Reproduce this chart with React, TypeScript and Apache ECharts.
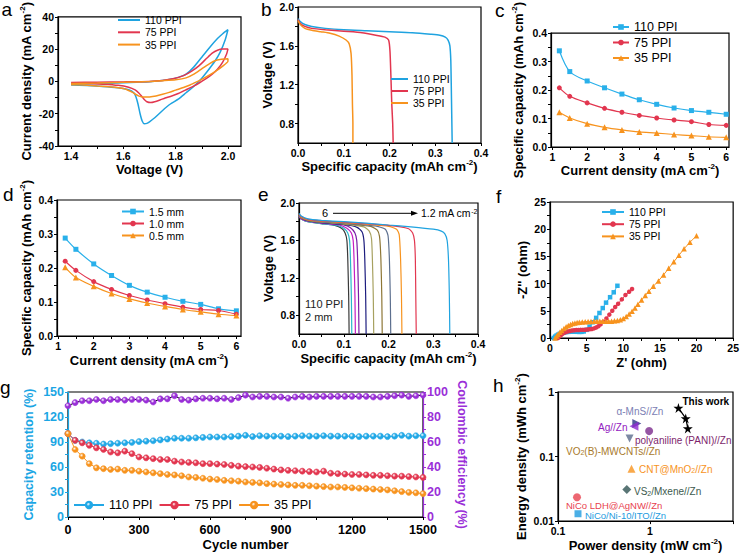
import React, { useEffect, useRef } from "react";
import * as echarts from "echarts";

const FONT = "'Liberation Sans', Arial, Helvetica, sans-serif";

const BLUE = "#1FA3E0";
const RED = "#E2364F";
const ORANGE = "#F7931E";
const PURPLE = "#9A2FD8";
const CYAN_AXIS = "#1BA6E4";

// ---------------- panel a : CV loops [V, mA cm-2]
const cv110 = [[1.40,-1.8],[1.45,-1.5],[1.50,-1.3],[1.55,-1.1],[1.60,-0.8],[1.65,-0.5],[1.70,-0.2],[1.74,0.4],[1.78,1.3],[1.81,2.5],[1.84,4.5],[1.87,9],[1.90,15],[1.93,21],[1.96,26.5],[1.98,29.5],[2.00,32],[1.99,26],[1.97,18],[1.95,12.5],[1.92,6],[1.90,2],[1.87,-3],[1.84,-7],[1.81,-11],[1.78,-14],[1.75,-18],[1.72,-22.5],[1.70,-25],[1.69,-26],[1.68,-26.2],[1.672,-24.5],[1.664,-20],[1.656,-14],[1.648,-9.5],[1.64,-7],[1.62,-5.2],[1.58,-4],[1.52,-3.1],[1.46,-2.6],[1.40,-2.3]];
const cv75 = [[1.40,-0.7],[1.50,-0.5],[1.60,-0.3],[1.70,0],[1.75,0.6],[1.79,1.6],[1.83,3.6],[1.86,6.2],[1.89,9.8],[1.92,14.5],[1.94,17.5],[1.96,19.3],[1.98,20],[2.00,20],[1.995,17],[1.98,12],[1.96,7.5],[1.94,4.5],[1.915,1.5],[1.89,-1],[1.865,-3.2],[1.84,-5.2],[1.81,-7.5],[1.78,-9.3],[1.76,-10.3],[1.74,-11.5],[1.72,-12.6],[1.705,-13.1],[1.69,-12.6],[1.68,-11.2],[1.67,-9.2],[1.66,-7.3],[1.645,-5.3],[1.62,-3.6],[1.58,-2.4],[1.52,-1.7],[1.46,-1.3],[1.40,-1.1]];
const cv35 = [[1.40,-1.3],[1.50,-1.0],[1.60,-0.6],[1.70,-0.1],[1.75,0.4],[1.80,1.0],[1.84,2.2],[1.87,4.5],[1.90,7.8],[1.93,11],[1.95,12.8],[1.97,13.6],[2.00,14],[2.00,12.5],[1.98,9.5],[1.955,6.5],[1.93,4],[1.905,1.7],[1.88,-0.3],[1.855,-2.2],[1.83,-3.8],[1.80,-5.4],[1.775,-6.8],[1.75,-8],[1.725,-9],[1.70,-9.6],[1.675,-9.7],[1.66,-9.1],[1.648,-8.1],[1.635,-6.8],[1.62,-5.6],[1.60,-4.4],[1.56,-3.4],[1.50,-2.8],[1.45,-2.3],[1.40,-2.0]];

// ---------------- panel b : discharge [mAh cm-2, V]
const gcd110 = [[0,1.88],[0.005,1.85],[0.015,1.82],[0.03,1.80],[0.06,1.78],[0.1,1.765],[0.15,1.755],[0.2,1.745],[0.25,1.735],[0.29,1.72],[0.31,1.71],[0.322,1.69],[0.328,1.66],[0.332,1.6],[0.334,1.45],[0.335,1.2],[0.336,0.9],[0.337,0.6]];
const gcd75 = [[0,1.87],[0.005,1.83],[0.015,1.80],[0.03,1.78],[0.06,1.765],[0.1,1.75],[0.14,1.735],[0.17,1.71],[0.19,1.69],[0.198,1.66],[0.201,1.55],[0.203,1.3],[0.205,1.0],[0.207,0.8],[0.208,0.6]];
const gcd35 = [[0,1.86],[0.005,1.82],[0.015,1.78],[0.03,1.76],[0.05,1.745],[0.07,1.73],[0.09,1.70],[0.105,1.66],[0.112,1.62],[0.116,1.52],[0.118,1.3],[0.119,1.0],[0.12,0.8],[0.12,0.6]];

// ---------------- panels c, d : rate capability
const rateCurrent = [1.2, 1.5, 2, 2.5, 3, 3.5, 4, 4.5, 5, 5.5, 6];
const capPPI110 = [0.338, 0.265, 0.232, 0.208, 0.186, 0.166, 0.150, 0.137, 0.128, 0.122, 0.115];
const capPPI75 = [0.208, 0.178, 0.155, 0.136, 0.122, 0.111, 0.102, 0.095, 0.089, 0.079, 0.076];
const capPPI35 = [0.122, 0.102, 0.082, 0.069, 0.060, 0.053, 0.049, 0.044, 0.040, 0.036, 0.034];
const capThick15 = [0.288, 0.255, 0.212, 0.178, 0.149, 0.129, 0.114, 0.102, 0.093, 0.080, 0.074];
const capThick10 = [0.220, 0.193, 0.160, 0.137, 0.119, 0.106, 0.095, 0.085, 0.078, 0.075, 0.064];
const capThick05 = [0.202, 0.172, 0.146, 0.125, 0.109, 0.097, 0.087, 0.078, 0.071, 0.064, 0.060];

// ---------------- panel e : discharge at 6 ... 1.2 mA cm-2
const rate6 = [[0,1.86],[0.005,1.83],[0.02,1.80],[0.05,1.78],[0.08,1.76],[0.095,1.73],[0.103,1.68],[0.107,1.6],[0.109,1.4],[0.111,1.0],[0.112,0.6]];
const rate55 = [[0,1.86],[0.005,1.83],[0.02,1.80],[0.05,1.78],[0.085,1.76],[0.1,1.73],[0.109,1.68],[0.113,1.6],[0.115,1.4],[0.117,1.0],[0.118,0.6]];
const rate5 = [[0,1.86],[0.005,1.83],[0.02,1.805],[0.05,1.785],[0.09,1.765],[0.107,1.73],[0.117,1.68],[0.121,1.6],[0.123,1.4],[0.125,1.0],[0.126,0.6]];
const rate45 = [[0,1.87],[0.005,1.84],[0.02,1.81],[0.05,1.79],[0.1,1.765],[0.115,1.735],[0.125,1.68],[0.129,1.6],[0.131,1.4],[0.133,1.0],[0.134,0.6]];
const rate4 = [[0,1.87],[0.005,1.84],[0.02,1.81],[0.05,1.79],[0.1,1.77],[0.13,1.74],[0.141,1.69],[0.145,1.6],[0.147,1.4],[0.149,1.0],[0.15,0.6]];
const rate35 = [[0,1.87],[0.005,1.84],[0.02,1.815],[0.05,1.795],[0.1,1.775],[0.145,1.745],[0.157,1.70],[0.162,1.62],[0.164,1.4],[0.166,1.0],[0.167,0.6]];
const rate3 = [[0,1.87],[0.005,1.845],[0.02,1.815],[0.05,1.8],[0.1,1.78],[0.16,1.75],[0.175,1.71],[0.18,1.64],[0.183,1.4],[0.185,1.0],[0.186,0.6]];
const rate25 = [[0,1.88],[0.005,1.85],[0.02,1.82],[0.05,1.8],[0.1,1.785],[0.17,1.755],[0.193,1.72],[0.199,1.65],[0.202,1.4],[0.204,1.0],[0.205,0.6]];
const rate2 = [[0,1.88],[0.005,1.85],[0.02,1.82],[0.05,1.805],[0.1,1.79],[0.2,1.75],[0.218,1.72],[0.224,1.66],[0.227,1.4],[0.229,1.0],[0.23,0.6]];
const rate15 = [[0,1.88],[0.005,1.855],[0.02,1.825],[0.05,1.81],[0.1,1.795],[0.2,1.76],[0.245,1.725],[0.254,1.68],[0.258,1.6],[0.26,1.4],[0.261,1.0],[0.262,0.6]];
const rate12 = [[0,1.89],[0.005,1.86],[0.02,1.83],[0.05,1.815],[0.1,1.80],[0.15,1.785],[0.2,1.765],[0.25,1.745],[0.3,1.72],[0.318,1.70],[0.326,1.67],[0.331,1.6],[0.334,1.4],[0.336,1.0],[0.337,0.6]];
const rateCurves = [rate6, rate55, rate5, rate45, rate4, rate35, rate3, rate25, rate2, rate15, rate12];
const rateNames = ["6", "5.5", "5", "4.5", "4", "3.5", "3", "2.5", "2", "1.5", "1.2"];
const rateColors = ["#3A3A3A", "#2AB7C9", "#C51FC4", "#7A1EA6", "#1C1C7E", "#A7A160", "#8D7635", "#5C6F8E", ORANGE, RED, BLUE];

// ---------------- panel f : Nyquist [Z', -Z'']
const eis110 = [[0.5,0],[0.7,0.25],[0.9,0.45],[1.1,0.62],[1.35,0.78],[1.6,0.9],[1.9,1.0],[2.2,1.08],[2.5,1.13],[2.8,1.16],[3.1,1.17],[3.4,1.16],[3.7,1.14],[4.0,1.12],[4.3,1.13],[4.6,1.2],[5.0,1.5],[5.4,2.1],[5.85,2.9],[6.3,3.7],[6.75,4.6],[7.2,5.5],[7.65,6.5],[8.2,7.5],[8.7,8.4],[9.2,9.6]];
const eis75 = [[1.1,0],[1.3,0.3],[1.55,0.6],[1.8,0.85],[2.1,1.05],[2.4,1.2],[2.7,1.3],[3.0,1.38],[3.3,1.43],[3.6,1.46],[3.9,1.48],[4.2,1.5],[4.5,1.5],[4.8,1.52],[5.1,1.55],[5.4,1.6],[5.7,1.66],[6.0,1.76],[6.3,1.92],[6.6,2.15],[6.9,2.5],[7.3,3.0],[7.7,3.6],[8.1,4.3],[8.5,5.0],[8.9,5.7],[9.3,6.3],[9.8,7.1],[10.3,7.9],[10.8,8.5],[11.2,9.0]];
const eis35 = [[0.7,0],[0.9,0.35],[1.1,0.7],[1.35,1.05],[1.6,1.4],[1.9,1.75],[2.2,2.05],[2.5,2.3],[2.8,2.5],[3.1,2.65],[3.4,2.75],[3.7,2.85],[4.0,2.9],[4.4,2.95],[4.8,3.0],[5.2,3.05],[5.6,3.05],[6.0,3.1],[6.4,3.1],[6.8,3.1],[7.2,3.1],[7.6,3.1],[8.0,3.1],[8.4,3.1],[8.8,3.15],[9.2,3.2],[9.6,3.35],[10.0,3.6],[10.4,3.95],[10.8,4.4],[11.2,4.9],[11.6,5.5],[12.0,6.2],[12.5,7.0],[13.0,7.8],[13.5,8.6],[14.1,9.5],[14.8,10.5],[15.5,11.6],[16.2,12.8],[16.9,14.0],[17.6,15.2],[18.3,16.4],[19.1,17.6],[20.0,18.8]];

// ---------------- panel g : cycling
const cycles = [0,30,60,90,120,150,180,210,240,270,300,330,360,390,420,450,480,510,540,570,600,630,660,690,720,750,780,810,840,870,900,930,960,990,1020,1050,1080,1110,1140,1170,1200,1230,1260,1290,1320,1350,1380,1410,1440,1470,1500];
const ret110 = [100,92,90,89,88.5,87.5,88,88.5,89,89.5,90.5,91,91.5,92.5,93.5,94.5,94.5,94.5,95,95.5,96,96,96,96.5,97,98,96.5,97.5,97,97,97,96.5,97,97.5,97,97,97.5,97,97,97,97,96.5,97,97,97,96.5,97,98,97,97.5,97.5];
const ret75 = [100,92,89,86,83,81,78,77,79,76,72,71,70,69,69,67,66,65.5,65,64,64,63.5,63,62,61,60.5,60,59.5,58.5,57.5,56.5,56,55.5,55,54.5,54,55,52.5,52,51.5,51,51,50.5,50,50,49.5,49,49,48.5,48,47.5];
const ret35 = [100,81,73,64,59,58,57,57.5,56,56,55,54,53,52,51,50.5,49.5,48,47.5,46.5,45.5,45,44,43.5,43,42,41.5,41,40,39.5,39,38.5,38,38,37.5,37,36.5,36,36,35.5,35,34.5,34,33.5,33,32.5,31.5,30.5,29.5,29,28];
const ce110 = [89,91.5,93,93,94,93,94,94,93.5,94,94,93.5,92,94.5,94.5,97,94,93.5,94.5,95,95,94.5,95,94,95.5,97.5,96,96.5,96.5,96,96,95,96,96.5,96,96.5,96.5,96.5,96.5,96.5,96.5,96.5,96.5,96,96,96.5,97,97.5,96.5,97,97.5];

// ---------------- panel h : Ragone
const ragoneNames = ["α-MnS//Zn", "Ag//Zn", "polyaniline (PANI)//Zn", "VO2(B)-MWCNTs//Zn", "CNT@MnO2//Zn", "VS2/Mxene//Zn", "NiCo LDH@AgNW//Zn", "NiCo/Ni-10/ITO//Zn"];
const ragonePower = [0.72, 0.67, 0.98, 0.6, 0.63, 0.56, 0.161, 0.165];
const ragoneEnergy = [0.325, 0.295, 0.248, 0.19, 0.065, 0.031, 0.0234, 0.013];
const thisWorkPower = [2.04, 2.45, 2.58];
const thisWorkEnergy = [0.567, 0.39, 0.273];

// ---------------- tick values
const aXMajor = [1.4, 1.6, 1.8, 2.0];
const aXMinor = [1.4, 1.5, 1.6, 1.7, 1.8, 1.9, 2.0];
const aYMajor = [-40, -20, 0, 20, 40];
const aYMinor = [-40, -30, -20, -10, 0, 10, 20, 30, 40];
const capMajor = [0, 0.1, 0.2, 0.3, 0.4];
const capMinor = [0, 0.05, 0.1, 0.15, 0.2, 0.25, 0.3, 0.35, 0.4];
const voltMajor = [0.8, 1.2, 1.6, 2.0];
const voltMinor = [0.8, 1.0, 1.2, 1.4, 1.6, 1.8, 2.0];
const curMajor = [1, 2, 3, 4, 5, 6];
const curMinor = [1, 1.5, 2, 2.5, 3, 3.5, 4, 4.5, 5, 5.5, 6];
const zMajor = [0, 5, 10, 15, 20, 25];
const zMinor = [0, 2.5, 5, 7.5, 10, 12.5, 15, 17.5, 20, 22.5, 25];
const cycMajor = [0, 300, 600, 900, 1200, 1500];
const cycMinor = [0, 150, 300, 450, 600, 750, 900, 1050, 1200, 1350, 1500];
const retMajor = [0, 30, 60, 90, 120, 150];
const retMinor = [0, 15, 30, 45, 60, 75, 90, 105, 120, 135, 150];
const ceMajor = [0, 20, 40, 60, 80, 100];
const ceMinor = [0, 10, 20, 30, 40, 50, 60, 70, 80, 90, 100];

const zip = (xs: number[], ys: number[]) => xs.map((x, i) => [x, ys[i]]);
const f1 = (v: number) => v.toFixed(1);
const fi = (v: number) => String(Math.round(v));

function axis(o: any) {
  const color = o.color || "#000";
  return {
    type: "value",
    gridIndex: o.grid,
    min: o.min,
    max: o.max,
    position: o.position,
    name: o.name,
    nameLocation: "middle",
    nameGap: o.gap,
    nameRotate: o.nameRotate,
    nameTextStyle: {
      fontFamily: FONT, fontSize: o.nameSize || 13, fontWeight: "bold", color, lineHeight: 16,
      rich: { sup: { fontFamily: FONT, fontSize: 8, fontWeight: "bold", color, verticalAlign: "top", lineHeight: 9 } },
    },
    axisLine: { show: true, onZero: false, lineStyle: { color, width: 1.2 } },
    axisTick: { show: true, inside: false, length: 3, customValues: o.minor, lineStyle: { color, width: 1 } },
    axisLabel: { show: true, customValues: o.major, formatter: o.fmt, fontFamily: FONT, fontSize: o.labelSize || 10.5, fontWeight: "bold", color, margin: o.margin ?? 4 },
    splitLine: { show: false },
  };
}

function logAxis(o: any) {
  return {
    type: "log", logBase: 10, gridIndex: o.grid, min: o.min, max: o.max,
    name: o.name, nameLocation: "middle", nameGap: o.gap,
    nameTextStyle: {
      fontFamily: FONT, fontSize: 13, fontWeight: "bold", color: "#000", lineHeight: 16,
      rich: { sup: { fontFamily: FONT, fontSize: 8, fontWeight: "bold", color: "#000", verticalAlign: "top", lineHeight: 9 } },
    },
    axisLine: { show: true, onZero: false, lineStyle: { color: "#000", width: 1.2 } },
    axisTick: { show: true, length: 3, lineStyle: { color: "#000" } },
    axisLabel: {
      fontFamily: FONT, fontSize: 10.5, fontWeight: "bold", color: "#000", margin: 4,
      formatter: (v: number) => {
        const e = Math.round(Math.log10(v));
        if (Math.abs(Math.log10(v) - e) > 1e-3) return "";
        return e >= 0 ? String(Math.pow(10, e)) : Math.pow(10, e).toFixed(-e);
      },
    },
    splitLine: { show: false },
  };
}

function ball(c: string) {
  return {
    type: "radial", x: 0.38, y: 0.35, r: 0.7,
    colorStops: [{ offset: 0, color: "#ffffff" }, { offset: 0.45, color: c }, { offset: 1, color: c }],
  };
}

function legend(o: any) {
  return {
    left: o.left, top: o.top, orient: o.orient || "vertical", padding: 0,
    itemWidth: o.iw, itemHeight: o.ih, itemGap: o.gap, icon: o.icon,
    data: o.data,
    formatter: (n: string) => n.slice(2),
    textStyle: { fontFamily: FONT, fontSize: o.fs || 10.5, color: "#000", lineHeight: o.lh || 12 },
    selectedMode: false,
  };
}

function txt(x: number, y: number, text: string, size: number, extra: any = {}) {
  return {
    type: "text", x, y, silent: true,
    style: { text, fill: extra.fill || "#000", fontFamily: FONT, fontSize: size, fontWeight: extra.weight || "normal", textVerticalAlign: "middle", textAlign: extra.align || "left", rich: extra.rich },
  };
}

function buildOption() {
  const gridBox = { show: true, borderColor: "#000", borderWidth: 1.2, backgroundColor: "transparent" };
  const grid = [
    { left: 58, top: 10, width: 183, height: 136 },
    { left: 298, top: 7, width: 183, height: 136 },
    { left: 551, top: 14, width: 178, height: 133 },
    { left: 57, top: 200, width: 184, height: 136 },
    { left: 299, top: 203, width: 179, height: 131 },
    { left: 550, top: 202, width: 185, height: 136 },
    { left: 68, top: 392, width: 355, height: 125 },
    { left: 558, top: 392, width: 175, height: 130 },
  ].map((g) => ({ ...g, ...gridBox }));

  const cdUnit = "Current density (mA cm{sup|-2})";
  const capUnit = "Specific capacity (mAh cm{sup|-2})";

  const xAxis = [
    axis({ grid: 0, min: 1.35, max: 2.05, major: aXMajor, minor: aXMinor, fmt: f1, name: "Voltage (V)", gap: 14 }),
    axis({ grid: 1, min: 0, max: 0.4, major: capMajor, minor: capMinor, fmt: f1, name: capUnit, gap: 15 }),
    axis({ grid: 2, min: 0.96, max: 6.08, major: curMajor, minor: curMinor, fmt: fi, name: cdUnit, gap: 15 }),
    axis({ grid: 3, min: 0.97, max: 6.13, major: curMajor, minor: curMinor, fmt: fi, name: cdUnit, gap: 16 }),
    axis({ grid: 4, min: 0, max: 0.4, major: capMajor, minor: capMinor, fmt: f1, name: capUnit, gap: 16.5 }),
    axis({ grid: 5, min: 0, max: 25, major: zMajor, minor: zMinor, fmt: fi, name: "Z' (ohm)", gap: 16 }),
    axis({ grid: 6, min: 0, max: 1500, major: cycMajor, minor: cycMinor, fmt: fi, name: "Cycle number", gap: 19, labelSize: 12.5, margin: 6 }),
    logAxis({ grid: 7, min: 0.1, max: 8, name: "Power density (mW cm{sup|-2})", gap: 14.5 }),
  ];
  const yAxis = [
    axis({ grid: 0, min: -40, max: 40, major: aYMajor, minor: aYMinor, fmt: fi, name: cdUnit, gap: 21 }),
    axis({ grid: 1, min: 0.6, max: 2.0, major: voltMajor, minor: voltMinor, fmt: f1, name: "Voltage (V)", gap: 21 }),
    axis({ grid: 2, min: 0, max: 0.4, major: capMajor, minor: capMinor, fmt: f1, name: capUnit, gap: 24.5 }),
    axis({ grid: 3, min: 0, max: 0.4, major: capMajor, minor: capMinor, fmt: f1, name: capUnit, gap: 20.5 }),
    axis({ grid: 4, min: 0.6, max: 2.0, major: voltMajor, minor: voltMinor, fmt: f1, name: "Voltage (V)", gap: 19.5 }),
    axis({ grid: 5, min: 0, max: 25, major: zMajor, minor: zMinor, fmt: fi, name: "-Z'' (ohm)", gap: 17 }),
    axis({ grid: 6, min: 0, max: 150, major: retMajor, minor: retMinor, fmt: fi, name: "Capacity retention (%)", gap: 31, color: CYAN_AXIS, labelSize: 12.5, nameSize: 12.5 }),
    logAxis({ grid: 7, min: 0.01, max: 1, name: "Energy density (mWh cm{sup|-2})", gap: 21 }),
    axis({ grid: 6, min: 0, max: 100, major: ceMajor, minor: ceMinor, fmt: fi, name: "Coulombic efficiency (%)", gap: 31, color: PURPLE, position: "right", nameRotate: -90, labelSize: 12.5, nameSize: 12.5 }),
  ];

  const series: any[] = [];
  const plain = (name: string, xi: number, data: any, color: string, w = 1.5) =>
    series.push({ type: "line", name, xAxisIndex: xi, yAxisIndex: xi, data, symbol: "none", smooth: 0.2, lineStyle: { color, width: w }, itemStyle: { color } });
  plain("a:110 PPI", 0, cv110, BLUE);
  plain("a:75 PPI", 0, cv75, RED);
  plain("a:35 PPI", 0, cv35, ORANGE);
  plain("b:110 PPI", 1, gcd110, BLUE);
  plain("b:75 PPI", 1, gcd75, RED);
  plain("b:35 PPI", 1, gcd35, ORANGE);

  const marked = (name: string, xi: number, data: any, color: string, symbol: string, size: number) =>
    series.push({ type: "line", name, xAxisIndex: xi, yAxisIndex: xi, data, symbol, symbolSize: size, smooth: 0.3, lineStyle: { color, width: 1.2 }, itemStyle: { color } });
  marked("c:110 PPI", 2, zip(rateCurrent, capPPI110), "#29B0EA", "rect", 5);
  marked("c:75 PPI", 2, zip(rateCurrent, capPPI75), RED, "circle", 5);
  marked("c:35 PPI", 2, zip(rateCurrent, capPPI35), ORANGE, "triangle", 6);
  marked("d:1.5 mm", 3, zip(rateCurrent, capThick15), "#29B0EA", "rect", 5);
  marked("d:1.0 mm", 3, zip(rateCurrent, capThick10), RED, "circle", 5);
  marked("d:0.5 mm", 3, zip(rateCurrent, capThick05), ORANGE, "triangle", 6);

  rateCurves.forEach((d, i) => plain("e:" + rateNames[i], 4, d, rateColors[i], 1.2));

  const eis = (name: string, data: any, color: string, symbol: string, size: number) =>
    series.push({ type: "line", name, xAxisIndex: 5, yAxisIndex: 5, data, symbol, symbolSize: size, lineStyle: { color, width: 1 }, itemStyle: { color } });
  eis("f:110 PPI", eis110, "#29B0EA", "rect", 4.5);
  eis("f:75 PPI", eis75, RED, "circle", 4.5);
  eis("f:35 PPI", eis35, ORANGE, "triangle", 5.5);

  const cyc = (name: string, vals: number[], color: string, lineColor: string, yi: number) =>
    series.push({ type: "line", name, xAxisIndex: 6, yAxisIndex: yi, data: zip(cycles, vals), symbol: "circle", symbolSize: 6, lineStyle: { color: lineColor, width: 1 }, itemStyle: { color: ball(color), borderColor: color, borderWidth: 0.6 } });
  cyc("g:110 PPI", ret110, "#22A8E6", "#22A8E6", 6);
  cyc("g:75 PPI", ret75, RED, RED, 6);
  cyc("g:35 PPI", ret35, ORANGE, ORANGE, 6);
  cyc("g:CE", ce110, PURPLE, "#000", 8);

  const hStyles = [
    { symbol: "triangle", rot: -90, size: 9, color: "#2B2F86" },
    { symbol: "triangle", rot: 90, size: 9, color: "#8E2AD0" },
    { symbol: "circle", rot: 0, size: 8, color: "#7A2A8C" },
    { symbol: "triangle", rot: 180, size: 8, color: "#5B6B8C" },
    { symbol: "triangle", rot: 0, size: 8, color: ORANGE },
    { symbol: "diamond", rot: 0, size: 9, color: "#2F5352" },
    { symbol: "circle", rot: 0, size: 8, color: "#E8414F" },
    { symbol: "rect", rot: 0, size: 7, color: "#1E9BE0" },
  ];
  series.push({
    type: "scatter", name: "h:refs", xAxisIndex: 7, yAxisIndex: 7,
    data: ragonePower.map((p, i) => ({
      name: ragoneNames[i], value: [p, ragoneEnergy[i]],
      symbol: hStyles[i].symbol, symbolRotate: hStyles[i].rot, symbolSize: hStyles[i].size,
      itemStyle: { color: hStyles[i].color },
    })),
  });
  series.push({
    type: "line", name: "h:This work", xAxisIndex: 7, yAxisIndex: 7,
    data: zip(thisWorkPower, thisWorkEnergy),
    symbol: "path://M50,0 L61,35 L98,35 L68,57 L79,91 L50,70 L21,91 L32,57 L2,35 L39,35 Z",
    symbolSize: 10, lineStyle: { color: "#000", width: 1.2 }, itemStyle: { color: "#000" },
  });

  const legends = [
    legend({ left: 118, top: 14, iw: 22, ih: 2, gap: 0.3, icon: "rect", data: ["a:110 PPI", "a:75 PPI", "a:35 PPI"] }),
    legend({ left: 391, top: 73, iw: 17, ih: 2, gap: 0, icon: "rect", data: ["b:110 PPI", "b:75 PPI", "b:35 PPI"] }),
    legend({ left: 612, top: 20, iw: 16, ih: 7, gap: 1.5, fs: 12.5, lh: 14, data: ["c:110 PPI", "c:75 PPI", "c:35 PPI"] }),
    legend({ left: 121, top: 205.5, iw: 22, ih: 7, gap: 0, data: ["d:1.5 mm", "d:1.0 mm", "d:0.5 mm"] }),
    legend({ left: 601, top: 206, iw: 22, ih: 7, gap: 0.2, data: ["f:110 PPI", "f:75 PPI", "f:35 PPI"] }),
    legend({ left: 73, top: 498, orient: "horizontal", iw: 30, ih: 8, gap: 6, fs: 12.5, lh: 14, data: ["g:110 PPI", "g:75 PPI", "g:35 PPI"] }),
  ];

  const sub = (c: string) => ({ s: { fontFamily: FONT, fontSize: 7, fill: c, verticalAlign: "bottom", lineHeight: 8 } });
  const supR = { sup: { fontFamily: FONT, fontSize: 7, fill: "#000", verticalAlign: "top", lineHeight: 8 } };

  const graphic = [
    txt(1.5, 9.8, "a", 19),
    txt(261, 9.8, "b", 19),
    txt(495, 10.5, "c", 19),
    txt(3, 194.5, "d", 19),
    txt(258, 194.5, "e", 19),
    txt(496, 196.7, "f", 19),
    txt(0, 387.8, "g", 19),
    txt(493, 385, "h", 19),
    // panel e annotations
    txt(322, 213, "6", 11),
    { type: "line", silent: true, shape: { x1: 333, y1: 213.3, x2: 413, y2: 213.3 }, style: { stroke: "#000", lineWidth: 1 } },
    { type: "polygon", silent: true, shape: { points: [[418, 213.3], [411, 210.8], [411, 215.8]] }, style: { fill: "#000" } },
    txt(421, 213, "1.2 mA cm{sup|-2}", 10.5, { rich: supR }),
    txt(305, 303.5, "110 PPI", 11, { fill: "#222" }),
    txt(305, 316.7, "2 mm", 11, { fill: "#222" }),
    // panel h labels
    txt(682.5, 401, "This work", 10, { weight: "bold" }),
    txt(616.5, 411, "α-MnS//Zn", 10, { fill: "#7C80B4" }),
    txt(598, 427, "Ag//Zn", 10, { fill: "#9320C0" }),
    txt(635, 440.7, "polyaniline (PANI)//Zn", 10, { fill: "#7E1F6C" }),
    txt(566, 451, "VO{s|2}(B)-MWCNTs//Zn", 10, { fill: "#A87A2C", rich: sub("#A87A2C") }),
    txt(639, 469, "CNT@MnO{s|2}//Zn", 10, { fill: ORANGE, rich: sub(ORANGE) }),
    txt(634, 491.5, "VS{s|2}/Mxene//Zn", 10, { fill: "#3D5A4E", rich: sub("#3D5A4E") }),
    txt(566, 505, "NiCo LDH@AgNW//Zn", 9.5, { fill: "#E8414F" }),
    txt(585, 515, "NiCo/Ni-10/ITO//Zn", 9.5, { fill: "#1E9BE0" }),
  ];

  return {
    animation: false,
    backgroundColor: "#fff",
    textStyle: { fontFamily: FONT },
    grid, xAxis, yAxis, series, legend: legends, graphic,
  };
}

export default function App() {
  const ref = useRef<HTMLDivElement>(null);
  useEffect(() => {
    const chart = echarts.init(ref.current!, null, { renderer: "svg" });
    chart.setOption(buildOption() as any);
    return () => chart.dispose();
  }, []);
  return <div ref={ref} style={{ position: "fixed", left: 0, top: 0, width: 742, height: 554, background: "#fff" }} />;
}
